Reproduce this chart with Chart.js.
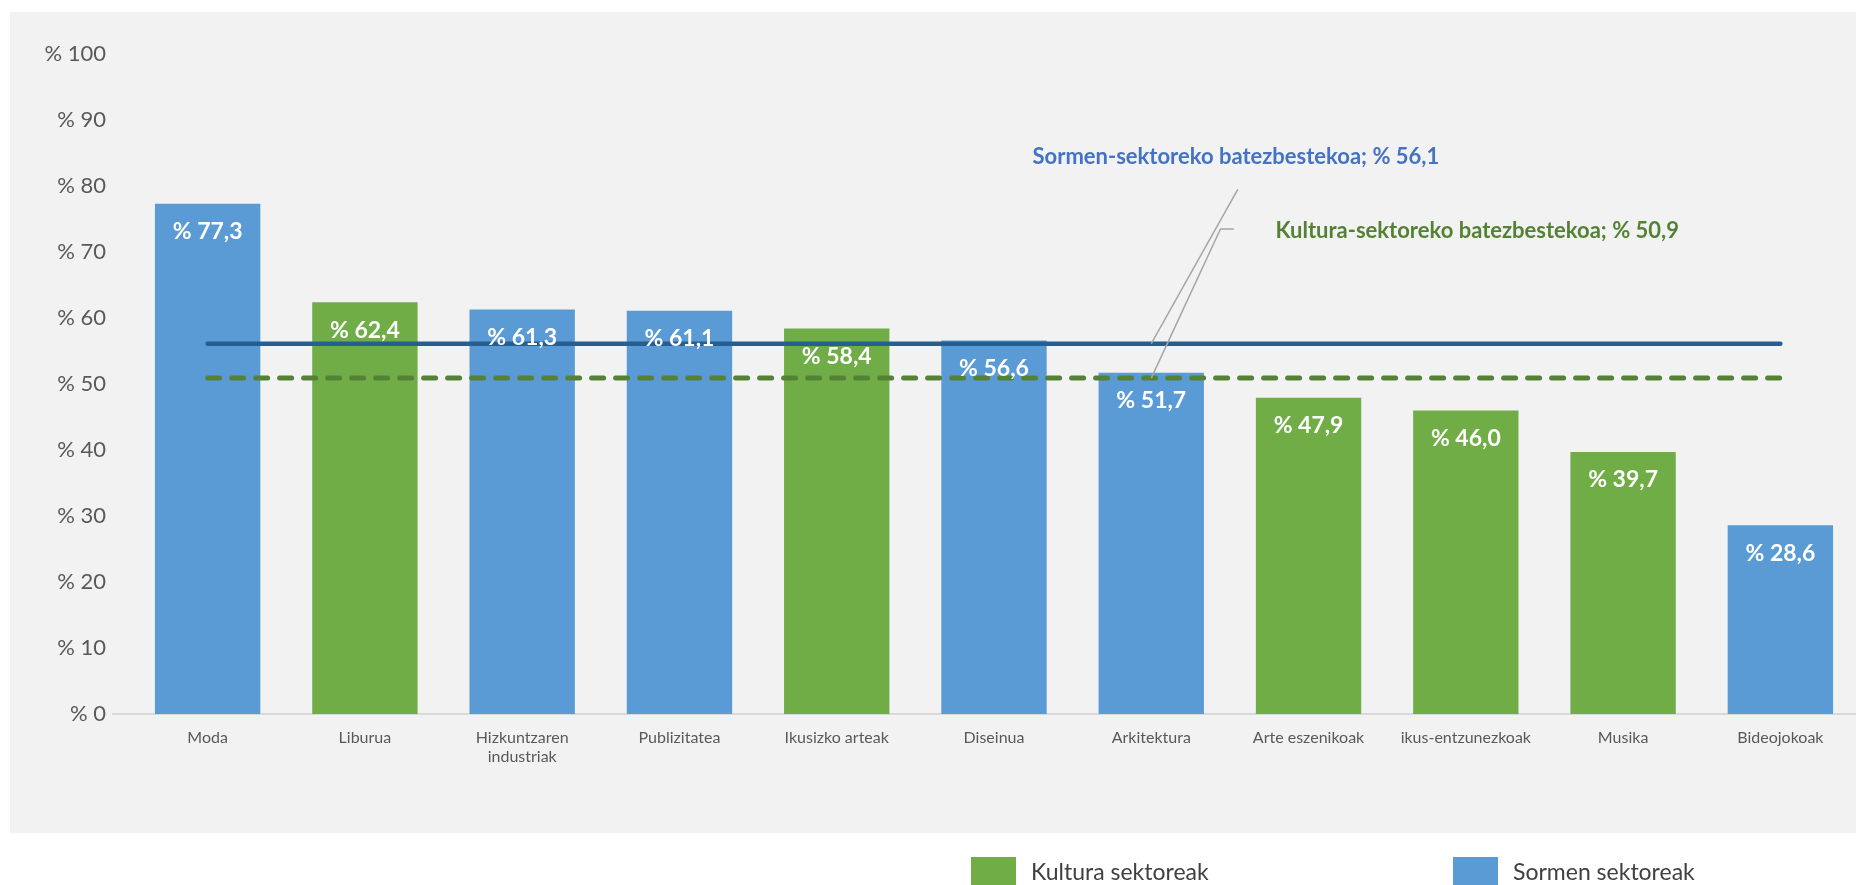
<!DOCTYPE html>
<html>
<head>
<meta charset="utf-8">
<script src="https://cdn.jsdelivr.net/npm/chart.js@4/dist/chart.umd.min.js"></script>
<style>
  html, body { margin: 0; padding: 0; background: #ffffff; overflow: hidden; }
  #wrap { width: 1859px; height: 885px; }
</style>
</head>
<body>
<div id="wrap"><canvas id="c" width="1859" height="885"></canvas></div>
<script>
// ---- data ----
const categories = [
  'Moda', 'Liburua', ['Hizkuntzaren', 'industriak'], 'Publizitatea', 'Ikusizko arteak',
  'Diseinua', 'Arkitektura', 'Arte eszenikoak', 'ikus-entzunezkoak', 'Musika', 'Bideojokoak'
];
const kulturaValues = [null, 62.4, null, null, 58.4, null, null, 47.9, 46.0, 39.7, null];
const sormenValues  = [77.3, null, 61.3, 61.1, null, 56.6, 51.7, null, null, null, 28.6];
const sormenAverage = 56.1;
const kulturaAverage = 50.9;
const seriesNames = ['Kultura sektoreak', 'Sormen sektoreak'];
const averageLabels = ['Sormen-sektoreko batezbestekoa; % 56,1', 'Kultura-sektoreko batezbestekoa; % 50,9'];
const yTickPrefix = '% ';

const GREEN = '#70AD47', BLUE = '#5B9BD5';
const fmt = v => '% ' + v.toFixed(1).replace('.', ',');

// background + axis line
const bgPlugin = {
  id: 'bg',
  beforeDraw(chart) {
    const ctx = chart.ctx;
    ctx.save();
    ctx.fillStyle = '#F2F2F2';
    ctx.fillRect(10, 12, chart.width - 10, 821);
    ctx.restore();
  },
  beforeDatasetsDraw(chart) {
    const ctx = chart.ctx, y = chart.scales.y.getPixelForValue(0);
    ctx.save();
    ctx.strokeStyle = '#D9D9D9';
    ctx.lineWidth = 2;
    ctx.beginPath();
    ctx.moveTo(chart.chartArea.left - 17, y);
    ctx.lineTo(chart.width, y);
    ctx.stroke();
    ctx.restore();
  }
};

// bar value labels
const labelPlugin = {
  id: 'vlabels',
  afterDatasetsDraw(chart) {
    const ctx = chart.ctx;
    ctx.save();
    ctx.fillStyle = '#ffffff';
    ctx.font = 'bold 23px Lato';
    ctx.textAlign = 'center';
    ctx.textBaseline = 'middle';
    chart.data.datasets.forEach((ds, i) => {
      if (ds.type !== 'bar') return;
      const meta = chart.getDatasetMeta(i);
      meta.data.forEach((el, j) => {
        const v = ds.data[j];
        if (v === null || v === undefined) return;
        ctx.fillText(fmt(v), el.x, el.y + 28);
      });
    });
    ctx.restore();
  }
};

// average annotations (positioned in data space)
const annotations = [
  { text: averageLabels[0], color: '#4472C4', x: 5.245, y: 84.4,
    leader: [[6.55, 79.5], [6.0, sormenAverage]] },
  { text: averageLabels[1], color: '#548235', x: 6.79, y: 73.2,
    leader: [[6.525, 73.5], [6.44, 73.5], [6.0, kulturaAverage]] }
];
const annotPlugin = {
  id: 'annot',
  afterDraw(chart) {
    const ctx = chart.ctx, xs = chart.scales.x, ys = chart.scales.y;
    ctx.save();
    annotations.forEach(a => {
      ctx.strokeStyle = '#A6A6A6';
      ctx.lineWidth = 1.5;
      ctx.beginPath();
      a.leader.forEach((p, k) => {
        const px = xs.getPixelForValue(p[0]), py = ys.getPixelForValue(p[1]);
        if (k === 0) ctx.moveTo(px, py); else ctx.lineTo(px, py);
      });
      ctx.stroke();
      ctx.fillStyle = a.color;
      ctx.font = 'bold 22px Lato';
      ctx.textAlign = 'left';
      ctx.textBaseline = 'middle';
      ctx.fillText(a.text, xs.getPixelForValue(a.x), ys.getPixelForValue(a.y));
    });
    ctx.restore();
  }
};

// custom legend
const legendPlugin = {
  id: 'customLegend',
  afterDraw(chart) {
    const ctx = chart.ctx;
    const items = [
      { label: seriesNames[0], color: GREEN, x: 971 },
      { label: seriesNames[1], color: BLUE, x: 1453 }
    ];
    ctx.save();
    items.forEach(it => {
      ctx.fillStyle = it.color;
      ctx.fillRect(it.x, 857, 45, 45);
      ctx.fillStyle = '#404040';
      ctx.font = '23px Lato';
      ctx.textAlign = 'left';
      ctx.textBaseline = 'alphabetic';
      ctx.fillText(it.label, it.x + 60, 880);
    });
    ctx.restore();
  }
};

const firstCat = categories[0];
const lastCat = categories[categories.length - 1];

new Chart(document.getElementById('c'), {
  data: {
    labels: categories,
    datasets: [
      { type: 'bar', label: seriesNames[0], data: kulturaValues, backgroundColor: GREEN,
        grouped: false, categoryPercentage: 1, barPercentage: 0.67, order: 2 },
      { type: 'bar', label: seriesNames[1], data: sormenValues, backgroundColor: BLUE,
        grouped: false, categoryPercentage: 1, barPercentage: 0.67, order: 2 },
      { type: 'line', label: averageLabels[0],
        data: [{ x: firstCat, y: sormenAverage }, { x: lastCat, y: sormenAverage }],
        borderColor: '#255E91', borderWidth: 4.5, borderCapStyle: 'round', pointRadius: 0, order: 0 },
      { type: 'line', label: averageLabels[1],
        data: [{ x: firstCat, y: kulturaAverage }, { x: lastCat, y: kulturaAverage }],
        borderColor: '#548235', borderWidth: 5, borderDash: [12, 12], borderCapStyle: 'round',
        pointRadius: 0, order: 1 }
    ]
  },
  options: {
    responsive: false,
    animation: false,
    devicePixelRatio: 1,
    layout: { padding: { top: 54, right: 0, bottom: 0, left: 0 } },
    plugins: { legend: { display: false }, tooltip: { enabled: false } },
    scales: {
      x: {
        type: 'category',
        offset: true,
        grid: { display: false, drawTicks: false },
        border: { display: false },
        ticks: { color: '#595959', font: { family: 'Lato', size: 16 }, padding: 14, maxRotation: 0, autoSkip: false },
        afterFit(s) { s.height = 171; }
      },
      y: {
        min: 0, max: 100,
        grid: { display: false, drawTicks: false },
        border: { display: false },
        ticks: { stepSize: 10, color: '#595959', font: { family: 'Lato', size: 22 }, padding: 23,
          callback: v => yTickPrefix + v },
        afterFit(s) { s.width = 129; }
      }
    }
  },
  plugins: [bgPlugin, labelPlugin, annotPlugin, legendPlugin]
});
</script>
</body>
</html>
